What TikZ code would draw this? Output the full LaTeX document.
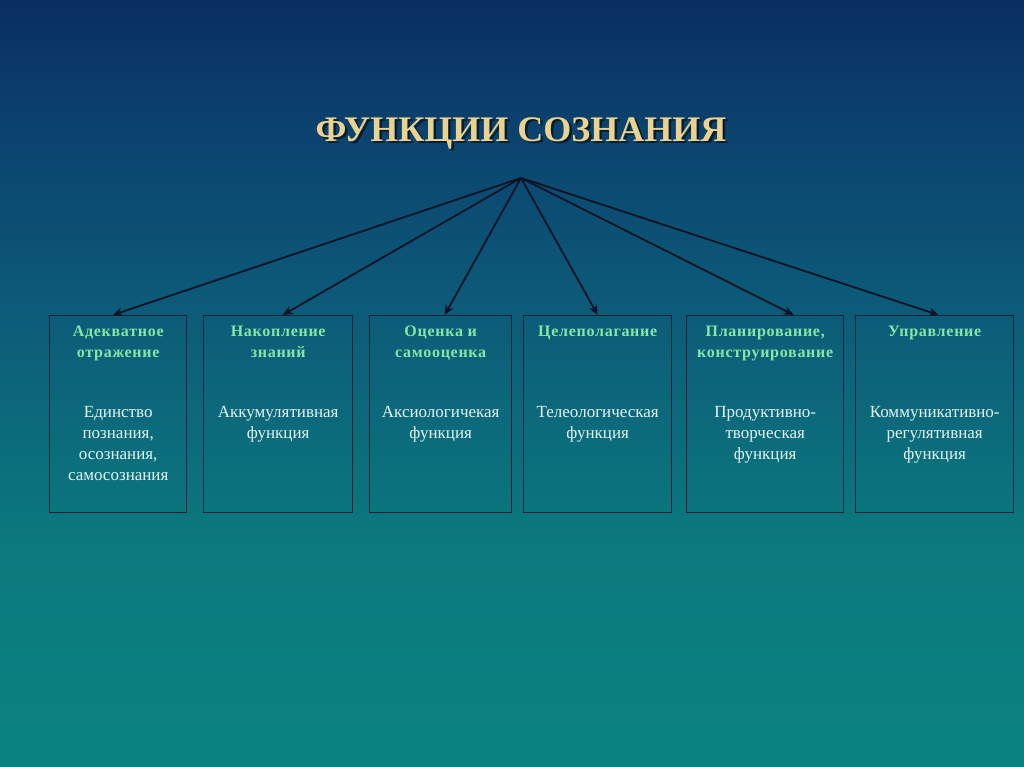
\documentclass[tikz,border=0pt]{standalone}
\usepackage{fontspec}
\setmainfont{Liberation Serif}
\newfontfamily\headfont[LetterSpace=4.5]{Liberation Serif}
\usetikzlibrary{arrows.meta}
\definecolor{bgA}{HTML}{0A2E62}
\definecolor{bgB}{HTML}{0B3E6C}
\definecolor{bgC}{HTML}{0C5A78}
\definecolor{bgD}{HTML}{0B7A7E}
\definecolor{bgE}{HTML}{0A8281}
\definecolor{titlecol}{HTML}{EBD28F}
\definecolor{headcol}{HTML}{86E6A6}
\definecolor{bodycol}{HTML}{E4F4F4}
\definecolor{boxline}{HTML}{142338}
\definecolor{arrowcol}{HTML}{0A1426}
\begin{document}
\begin{tikzpicture}[x=1pt,y=-1pt,
  fbox/.style={draw=boxline, line width=1.4pt, anchor=north west, inner sep=0pt},
  headtxt/.style={anchor=north, inner sep=0pt, align=center, text=headcol,
    font=\headfont\bfseries\fontsize{16}{21}\selectfont},
  bodytxt/.style={anchor=north, inner sep=0pt, align=center, text=bodycol,
    font=\fontsize{17}{21}\selectfont},
  conn/.style={draw=arrowcol, line width=1.8pt, -{Stealth[length=10pt,width=8.5pt]}}]
\useasboundingbox (0,0) rectangle (1024,767);
\shade[top color=bgA, bottom color=bgB] (0,0) rectangle (1024,100.5);
\shade[top color=bgB, bottom color=bgC] (0,100) rectangle (1024,300.5);
\shade[top color=bgC, bottom color=bgD] (0,300) rectangle (1024,550.5);
\shade[top color=bgD, bottom color=bgE] (0,550) rectangle (1024,767);
% title
\node[text=black, font=\bfseries\fontsize{36}{40}\selectfont, opacity=0.55] at (523.5,135.5) {ФУНКЦИИ СОЗНАНИЯ};
\node (title) [text=titlecol, font=\bfseries\fontsize{36}{40}\selectfont] at (521,133) {ФУНКЦИИ СОЗНАНИЯ};
\coordinate (apex) at (521,178);
% boxes
\node (b1) [fbox, minimum width=137pt, minimum height=197pt] at (49,315) {};
\node (b2) [fbox, minimum width=149pt, minimum height=197pt] at (203,315) {};
\node (b3) [fbox, minimum width=142pt, minimum height=197pt] at (369,315) {};
\node (b4) [fbox, minimum width=148pt, minimum height=197pt] at (523,315) {};
\node (b5) [fbox, minimum width=157pt, minimum height=197pt] at (686,315) {};
\node (b6) [fbox, minimum width=158pt, minimum height=197pt] at (855,315) {};
% headings
\node (h1) [headtxt] at ([yshift=-10.5pt]b1.north) {Адекватное\\отражение};
\node (h2) [headtxt] at ([yshift=-10.5pt]b2.north) {Накопление\\знаний};
\node (h3) [headtxt] at ([yshift=-10.5pt]b3.north) {Оценка и\\самооценка};
\node (h4) [headtxt] at ([yshift=-10.5pt]b4.north) {Целеполагание};
\node (h5) [headtxt] at ([yshift=-10.5pt]b5.north) {Планирование,\\конструирование};
\node (h6) [headtxt] at ([yshift=-10.5pt]b6.north) {Управление};
% bodies
\node (t1) [bodytxt] at ([yshift=-91pt]b1.north) {Единство\\познания,\\осознания,\\самосознания};
\node (t2) [bodytxt] at ([yshift=-91pt]b2.north) {Аккумулятивная\\функция};
\node (t3) [bodytxt] at ([yshift=-91pt]b3.north) {Аксиологичекая\\функция};
\node (t4) [bodytxt] at ([yshift=-91pt]b4.north) {Телеологическая\\функция};
\node (t5) [bodytxt] at ([yshift=-91pt]b5.north) {Продуктивно-\\творческая\\функция};
\node (t6) [bodytxt] at ([yshift=-91pt]b6.north) {Коммуникативно-\\регулятивная\\функция};
% connectors
\draw[conn] (apex) -- ([xshift=-5.5pt]b1.north);
\draw[conn] (apex) -- ([xshift=4.5pt]b2.north);
\draw[conn] (apex) -- ([xshift=4pt]b3.north);
\draw[conn] (apex) -- ([xshift=0pt]b4.north);
\draw[conn] (apex) -- ([xshift=28.5pt]b5.north);
\draw[conn] (apex) -- ([xshift=4pt]b6.north);
\end{tikzpicture}
\end{document}
